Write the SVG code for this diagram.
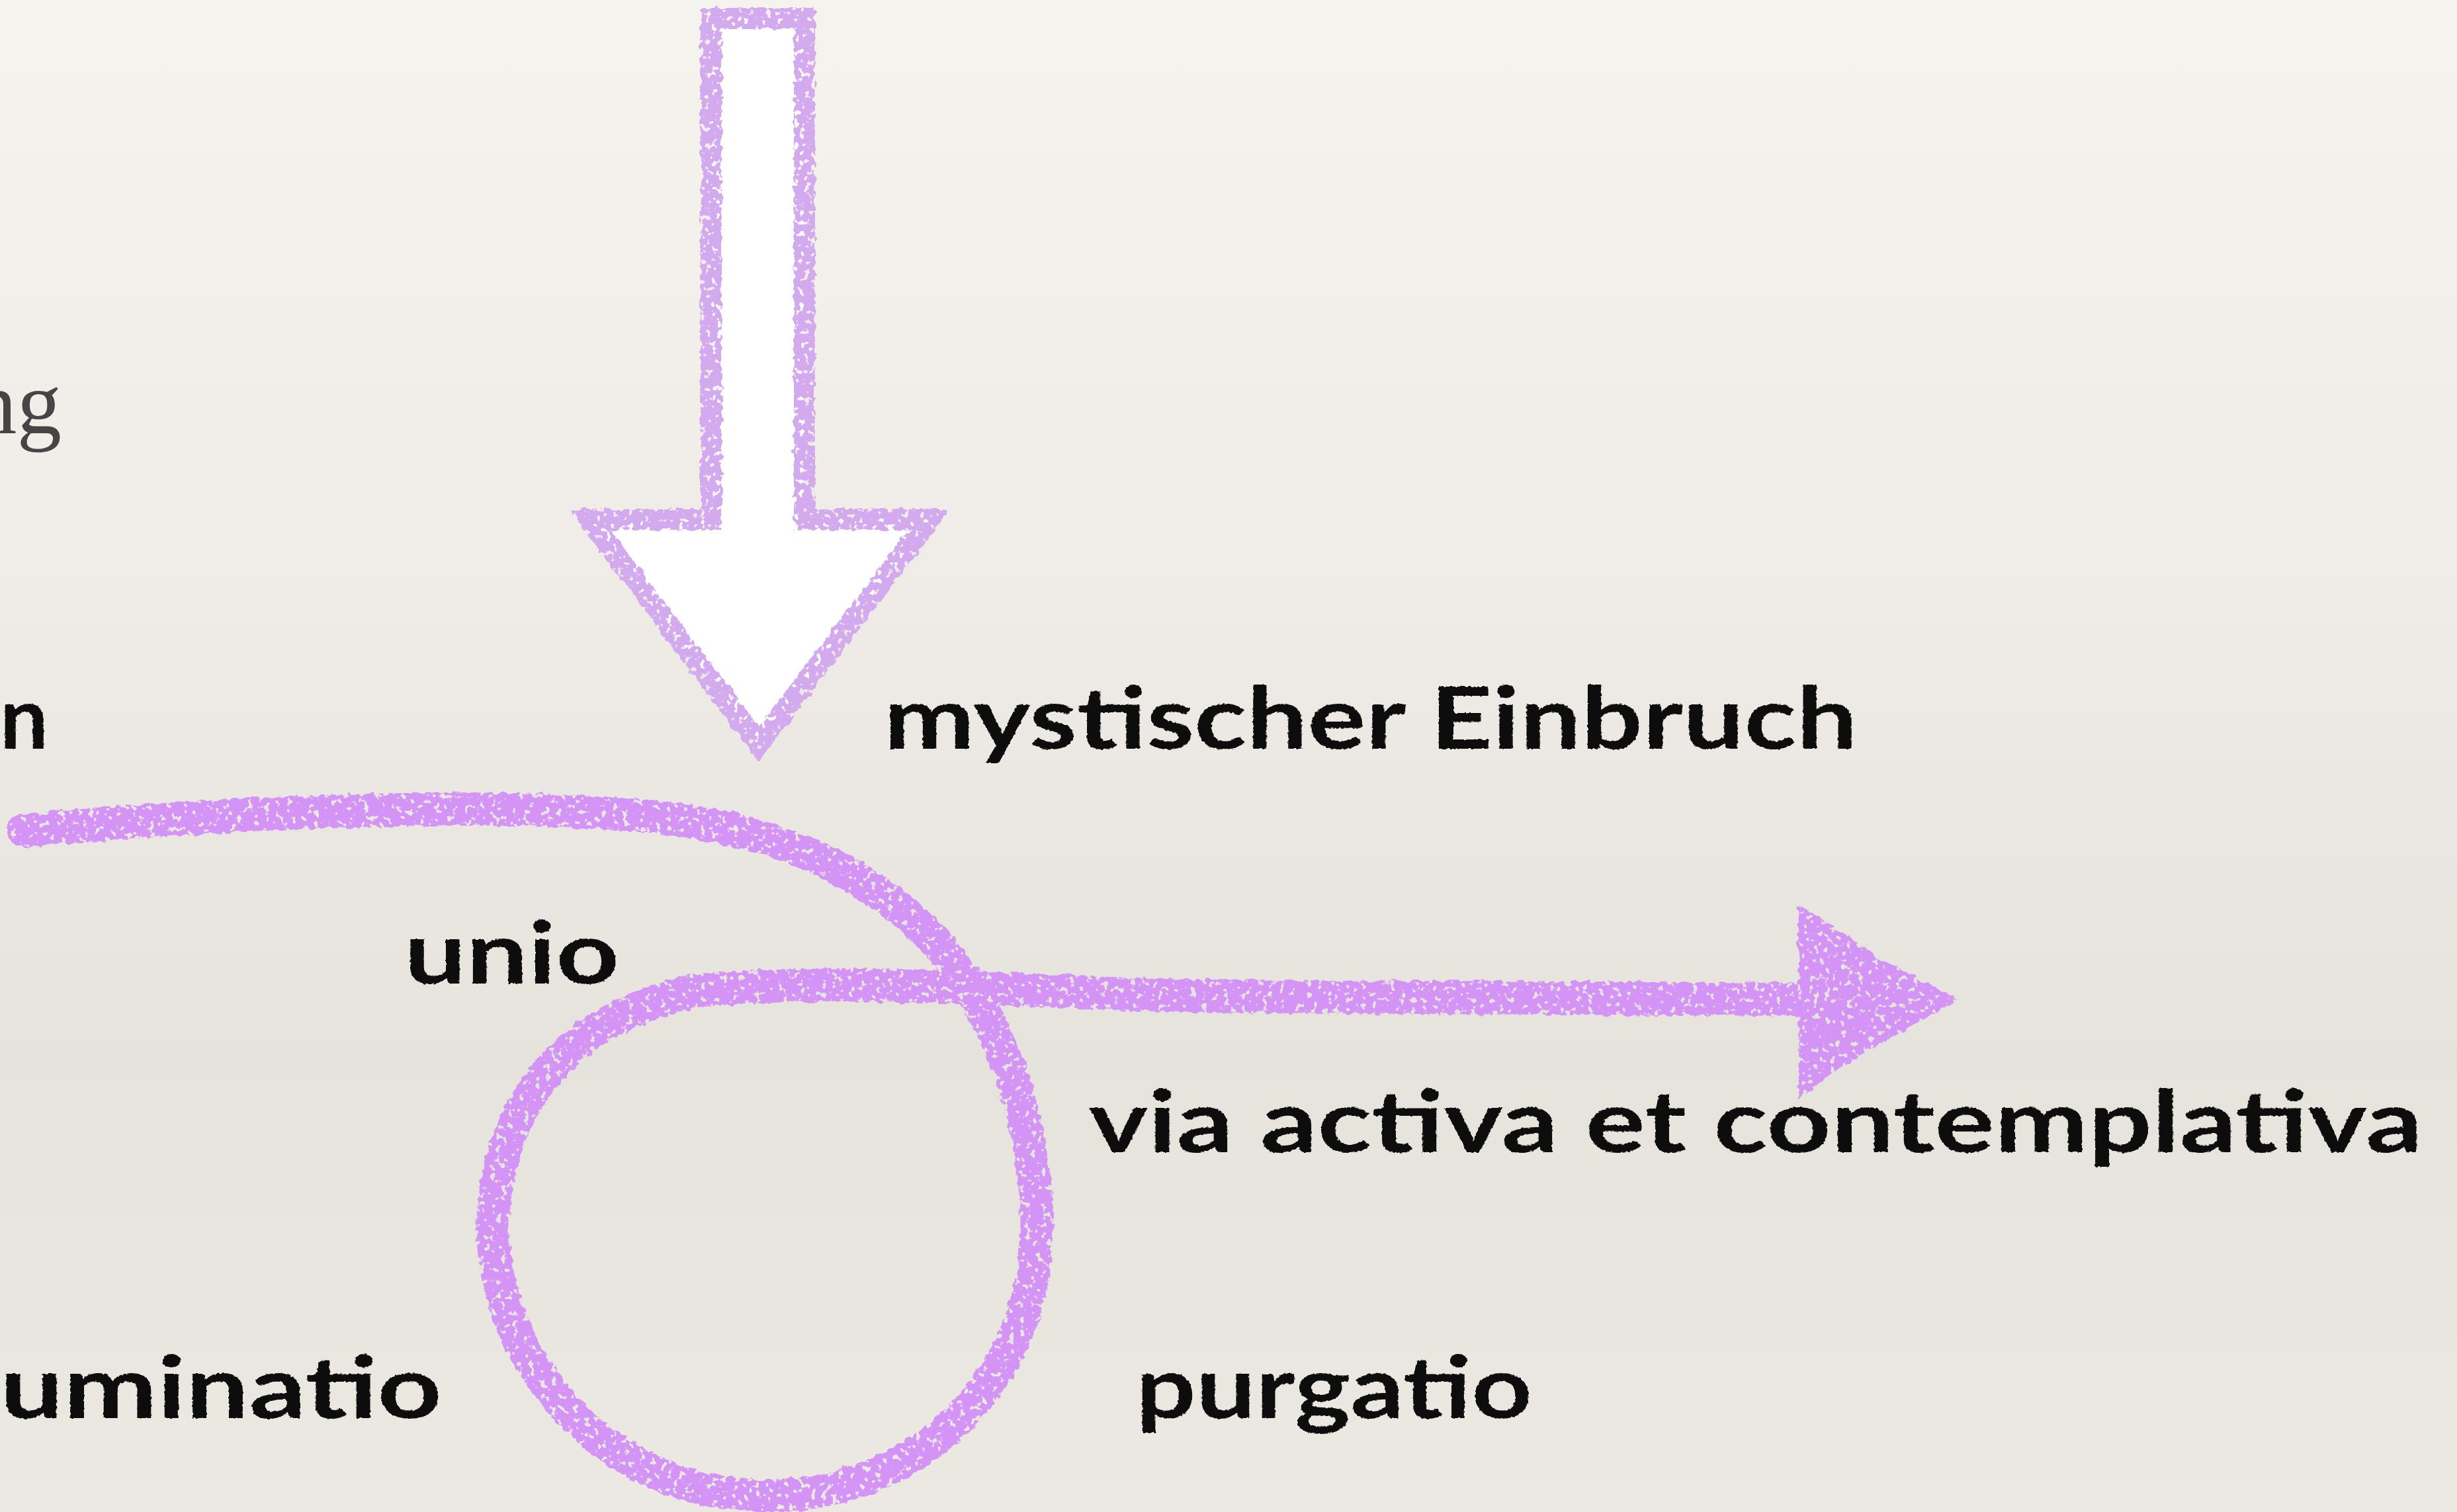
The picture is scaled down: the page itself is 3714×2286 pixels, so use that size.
<svg xmlns="http://www.w3.org/2000/svg" width="3714" height="2286" viewBox="0 0 3714 2286">
  <defs>
    <linearGradient id="paper" x1="0" y1="0" x2="0" y2="1">
      <stop offset="0" stop-color="#f5f3ee"/>
      <stop offset="0.35" stop-color="#f0ede8"/>
      <stop offset="0.7" stop-color="#e6e3dd"/>
      <stop offset="1" stop-color="#ece9e3"/>
    </linearGradient>
    <filter id="chalk" x="-5%" y="-5%" width="110%" height="110%">
      <feTurbulence type="fractalNoise" baseFrequency="0.09" numOctaves="2" seed="4" result="n"/>
      <feDisplacementMap in="SourceGraphic" in2="n" scale="11" xChannelSelector="R" yChannelSelector="G" result="d"/>
      <feTurbulence type="fractalNoise" baseFrequency="0.12" numOctaves="2" seed="9" result="n2"/>
      <feColorMatrix in="n2" type="matrix" values="0 0 0 0 0  0 0 0 0 0  0 0 0 0 0  0 0 0 -12 8.2" result="mask"/>
      <feComposite in="d" in2="mask" operator="in"/>
    </filter>
    <filter id="ink" x="-2%" y="-5%" width="104%" height="110%">
      <feTurbulence type="fractalNoise" baseFrequency="0.25" numOctaves="1" seed="7" result="n"/>
      <feDisplacementMap in="SourceGraphic" in2="n" scale="4" xChannelSelector="R" yChannelSelector="G"/>
    </filter>
  </defs>
  <style>
    .hand { font-family: "Lato", "Noto Sans", "DejaVu Sans", sans-serif; font-weight: 700; font-size: 130px; fill: #111; }
    .serif { font-family: "Liberation Serif", "DejaVu Serif", serif; font-size: 135px; fill: #454545; }
    .down-fill { fill: #ffffff; stroke: none; }
    .down-line { fill: none; stroke: #d4aaee; stroke-width: 32; stroke-linejoin: miter; }
    .loop { fill: none; stroke: #d494f6; stroke-width: 50; stroke-linecap: round; stroke-linejoin: round; }
    .head { fill: #d494f6; }
  </style>

  <rect x="0" y="0" width="3714" height="2286" fill="url(#paper)"/>

  <g id="title-fragment">
    <text class="serif" x="93" y="655" text-anchor="end">ng</text>
  </g>

  <g id="connectors" filter="url(#chalk)">
    <path class="loop" d="M 36 1255 C 350 1228, 750 1210, 1000 1236 C 1200 1258, 1360 1340, 1450 1470 C 1540 1600, 1575 1760, 1565 1890 C 1550 2100, 1380 2260, 1160 2262 C 930 2262, 760 2080, 746 1880 C 735 1680, 860 1530, 1060 1497 C 1300 1478, 1550 1500, 1800 1506 L 2730 1511"/>
    <path class="head" d="M 2716 1368 Q 2760 1390 2840 1450 Q 2920 1490 2960 1512 Q 2900 1545 2820 1590 Q 2760 1630 2718 1662 Q 2722 1512 2716 1368 Z"/>
  </g>

  <g id="mystic-arrow">
    <path class="down-fill" d="M 1075 28 L 1216 28 L 1216 785 L 1405 785 L 1147 1125 L 890 785 L 1075 785 Z"/>
    <path class="down-line" filter="url(#chalk)" d="M 1075 28 L 1216 28 L 1216 785 L 1405 785 L 1147 1125 L 890 785 L 1075 785 Z"/>
  </g>

  <g id="label-n" filter="url(#ink)">
    <text class="hand" x="73" y="1132" text-anchor="end">n</text>
  </g>
  <g id="label-mystischer" filter="url(#ink)">
    <text class="hand" x="1336" y="1132" textLength="1472" lengthAdjust="spacingAndGlyphs">mystischer Einbruch</text>
  </g>
  <g id="label-unio" filter="url(#ink)">
    <text class="hand" x="611" y="1487" textLength="325" lengthAdjust="spacingAndGlyphs">unio</text>
  </g>
  <g id="label-via" filter="url(#ink)">
    <text class="hand" x="1646" y="1742" textLength="2016" lengthAdjust="spacingAndGlyphs">via activa et contemplativa</text>
  </g>
  <g id="label-purgatio" filter="url(#ink)">
    <text class="hand" x="1717" y="2144" textLength="599" lengthAdjust="spacingAndGlyphs">purgatio</text>
  </g>
  <g id="label-illuminatio" filter="url(#ink)">
    <text class="hand" x="0" y="2144" textLength="668" lengthAdjust="spacingAndGlyphs">uminatio</text>
  </g>
</svg>
